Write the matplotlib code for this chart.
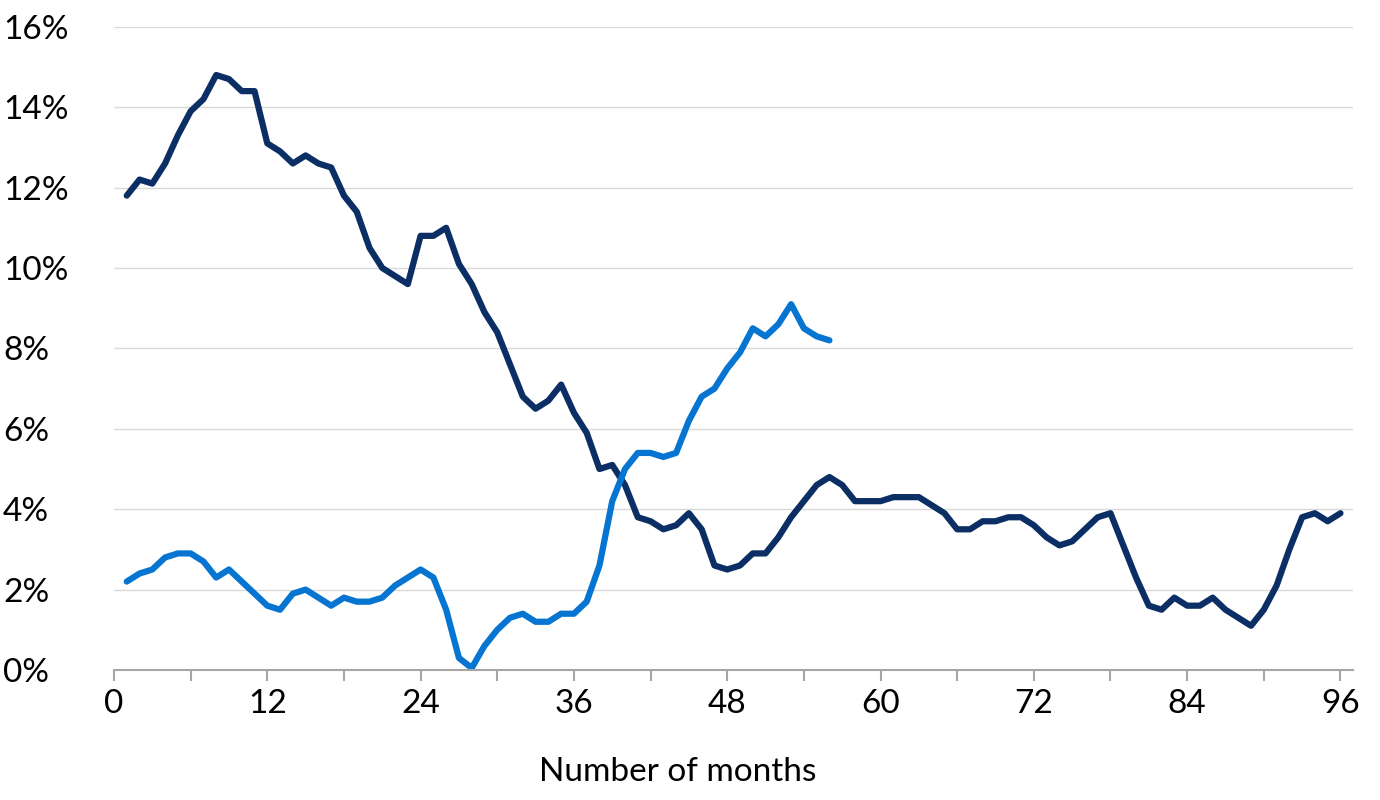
import matplotlib
matplotlib.use("Agg")
import matplotlib.pyplot as plt
from matplotlib.ticker import FuncFormatter, MultipleLocator

dark = [11.8,12.2,12.1,12.6,13.3,13.9,14.2,14.8,14.7,14.4,14.4,13.1,12.9,12.6,12.8,12.6,12.5,11.8,11.4,10.5,
        10.0,9.8,9.6,10.8,10.8,11.0,10.1,9.6,8.9,8.4,7.6,6.8,6.5,6.7,7.1,6.4,5.9,5.0,5.1,4.6,
        3.8,3.7,3.5,3.6,3.9,3.5,2.6,2.5,2.6,2.9,2.9,3.3,3.8,4.2,4.6,4.8,4.6,4.2,4.2,4.2,
        4.3,4.3,4.3,4.1,3.9,3.5,3.5,3.7,3.7,3.8,3.8,3.6,3.3,3.1,3.2,3.5,3.8,3.9,3.1,2.3,
        1.6,1.5,1.8,1.6,1.6,1.8,1.5,1.3,1.1,1.5,2.1,3.0,3.8,3.9,3.7,3.9]
light = [2.2,2.4,2.5,2.8,2.9,2.9,2.7,2.3,2.5,2.2,1.9,1.6,1.5,1.9,2.0,1.8,1.6,1.8,1.7,1.7,
         1.8,2.1,2.3,2.5,2.3,1.5,0.3,0.05,0.6,1.0,1.3,1.4,1.2,1.2,1.4,1.4,1.7,2.6,4.2,5.0,
         5.4,5.4,5.3,5.4,6.2,6.8,7.0,7.5,7.9,8.5,8.3,8.6,9.1,8.5,8.3,8.2]
months_dark = list(range(1, len(dark) + 1))
months_light = list(range(1, len(light) + 1))

plt.rcParams["font.family"] = "Lato"
fig = plt.figure(figsize=(13.8, 8.0), dpi=100)
ax = fig.add_axes([0.0826, 0.1625, 0.898, 0.804])
ax.plot(months_dark, dark, color="#0b2f64", lw=4.5, solid_joinstyle="round", solid_capstyle="round")
ax.plot(months_light, light, color="#0575d1", lw=4.5, solid_joinstyle="round", solid_capstyle="round")
ax.set_xlim(0, 97)
ax.set_ylim(0, 16)
ax.xaxis.set_major_locator(MultipleLocator(12))
ax.xaxis.set_minor_locator(MultipleLocator(6))
ax.yaxis.set_major_locator(MultipleLocator(2))
ax.yaxis.set_major_formatter(FuncFormatter(lambda v, p: f"{v:.0f}%"))
ax.grid(axis="y", color="#d9d9d9", lw=1)
ax.set_axisbelow(True)
for s in ["top", "right", "left"]:
    ax.spines[s].set_visible(False)
ax.spines["bottom"].set_color("#a6a6a6")
ax.spines["bottom"].set_linewidth(1.5)
ax.tick_params(axis="x", which="both", color="#a6a6a6", length=8, width=1.5, labelsize=24, pad=6)
ax.tick_params(axis="y", length=0, labelsize=24)
for t in ax.get_yticklabels():
    t.set_horizontalalignment("left")
ax.yaxis.set_tick_params(pad=80)
ax.set_xlabel("Number of months", fontsize=24, labelpad=24)
ax.xaxis.set_label_coords(0.455, -0.135)
fig.savefig("out.png", dpi=100)
